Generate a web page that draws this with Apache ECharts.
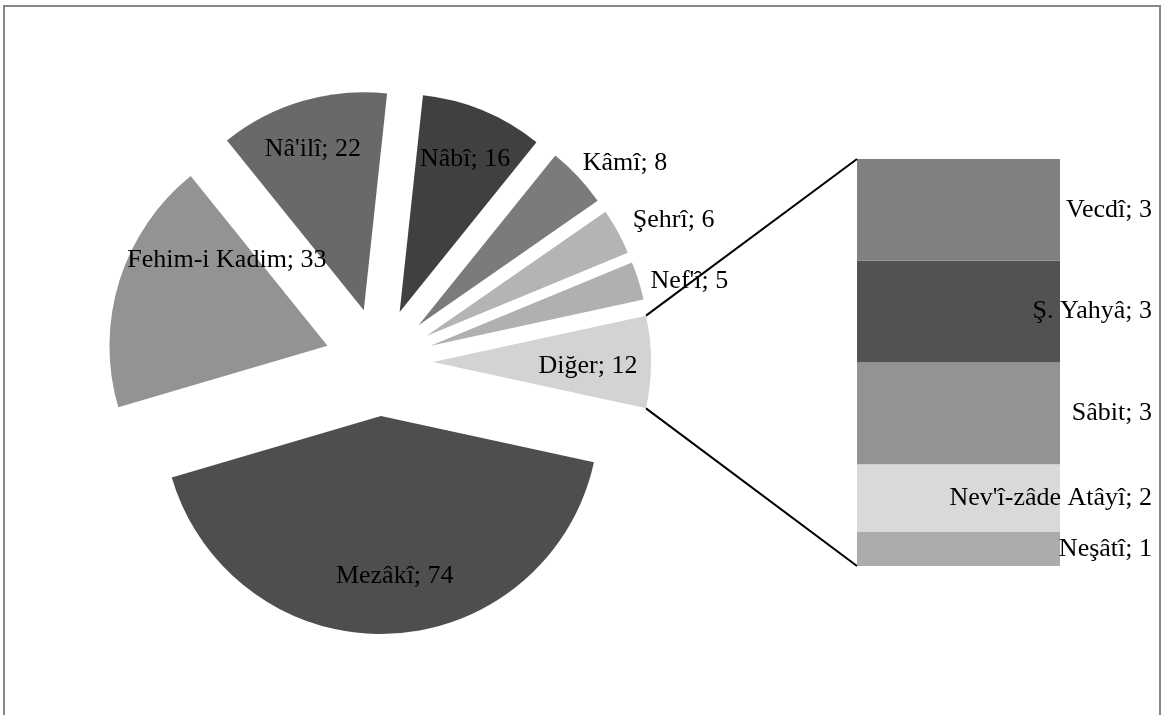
<!DOCTYPE html>
<html><head><meta charset="utf-8">
<script src="https://cdn.jsdelivr.net/npm/echarts@6/dist/echarts.min.js"></script>
<style>html,body{margin:0;padding:0;background:#fff}#c{width:1166px;height:715px}</style>
</head><body><div id="c"></div>
<script>
// ---- data ----
const pieNames = ['Mezâkî', 'Fehim-i Kadim', "Nâ'ilî", 'Nâbî', 'Kâmî', 'Şehrî', "Nef'î"];
const pieValues = [74, 33, 22, 16, 8, 6, 5];
const otherName = 'Diğer';
const barNames = ['Vecdî', 'Ş. Yahyâ', 'Sâbit', "Nev'î-zâde Atâyî", 'Neşâtî'];
const barValues = [3, 3, 3, 2, 1];

// ---- styles ----
const pieColors = ['#4e4e4e', '#939393', '#696969', '#404040', '#7b7b7b', '#b4b4b4', '#b0b0b0'];
const otherColor = '#d3d3d3';
const barColors = ['#808080', '#525252', '#939393', '#d9d9d9', '#acacac'];
// outside labels: [labelLine length, length2]
const outsideLabels = { 'Kâmî': [20, -10], 'Şehrî': [24, -6], "Nef'î": [0, 12] };
// small nudges of the inside labels (best-fit placement)
const labelNudge = { 'Fehim-i Kadim': [55, -37], 'Mezâkî': [8, -3], "Nâ'ilî": [-5, -5], 'Nâbî': [3, -2], 'Diğer': [-8, 4] };
const FONT = 'Liberation Serif';
const FS = 26;
const EXPLODE = 54;

const otherValue = barValues.reduce((a, b) => a + b, 0);
const allNames = pieNames.concat([otherName]);
const allValues = pieValues.concat([otherValue]);
const allColors = pieColors.concat([otherColor]);
const total = allValues.reduce((a, b) => a + b, 0);
const startAngle = -(otherValue / total) * 180;

const labelStyle = { fontFamily: FONT, fontSize: FS, color: '#000' };

const mainPieData = allNames.map((n, i) => {
  const o = outsideLabels[n];
  return {
    name: n, value: allValues[i], selected: true,
    itemStyle: { color: allColors[i] },
    label: o ? { show: true, position: 'outside', distanceToLabelLine: 0 } : { show: false },
    labelLine: o ? { show: false, length: o[0], length2: o[1] } : { show: false }
  };
});
const labelPieData = allNames.map((n, i) => ({
  name: n, value: allValues[i], selected: true,
  label: { show: !outsideLabels[n] }
}));

const barSeries = [];
for (let i = barNames.length - 1; i >= 0; i--) {
  barSeries.push({
    type: 'bar', name: barNames[i], stack: 'other', data: [barValues[i]],
    barWidth: '100%', xAxisIndex: 0, yAxisIndex: 0,
    itemStyle: { color: barColors[i] },
    label: { show: true, position: 'insideRight', distance: 0, offset: [92, 0],
      formatter: '{a}; {c}', ...labelStyle },
    silent: true
  });
}

const chart = echarts.init(document.getElementById('c'), null, { renderer: 'canvas' });
const option = {
  animation: false,
  backgroundColor: '#fff',
  grid: { left: 857, top: 159, width: 203, height: 407 },
  xAxis: { type: 'category', data: [otherName], show: false },
  yAxis: { type: 'value', min: 0, max: otherValue, show: false },
  series: [
    {
      type: 'pie', center: [379, 362], radius: [0, 218], startAngle: startAngle, clockwise: true,
      selectedMode: 'multiple', selectedOffset: EXPLODE, avoidLabelOverlap: false, silent: true,
      itemStyle: { borderWidth: 0 },
      label: { formatter: '{b}; {c}', ...labelStyle },
      data: mainPieData
    },
    {
      type: 'pie', center: [379, 362], radius: [0, 320], startAngle: startAngle, clockwise: true,
      selectedMode: 'multiple', selectedOffset: EXPLODE, avoidLabelOverlap: false, silent: true,
      itemStyle: { color: 'rgba(0,0,0,0)', borderWidth: 0 },
      label: { position: 'inside', formatter: '{b}; {c}', ...labelStyle },
      labelLine: { show: false },
      labelLayout: function (p) {
        const nd = labelNudge[allNames[p.dataIndex]];
        return nd ? { dx: nd[0], dy: nd[1] } : {};
      },
      data: labelPieData
    }
  ].concat(barSeries)
};
chart.setOption(option);

// connector lines from "Diğer" slice to the stacked bar
const pd = chart.getModel().getSeriesByIndex(0).getData();
const L = pd.getItemLayout(pd.count() - 1);
const mid = (L.startAngle + L.endAngle) / 2;
const ox = L.cx + EXPLODE * Math.cos(mid), oy = L.cy + EXPLODE * Math.sin(mid);
const c1 = [ox + L.r * Math.cos(L.startAngle), oy + L.r * Math.sin(L.startAngle)];
const c2 = [ox + L.r * Math.cos(L.endAngle), oy + L.r * Math.sin(L.endAngle)];
const upper = c1[1] < c2[1] ? c1 : c2, lower = c1[1] < c2[1] ? c2 : c1;
const rect = chart.getModel().getComponent('grid', 0).coordinateSystem.getRect();
const yTop = chart.convertToPixel({ gridIndex: 0 }, [0, otherValue])[1];
const yBot = chart.convertToPixel({ gridIndex: 0 }, [0, 0])[1];
chart.setOption({
  graphic: [
    { type: 'line', z: 100, shape: { x1: upper[0], y1: upper[1], x2: rect.x, y2: yTop }, style: { stroke: '#000', lineWidth: 2 } },
    { type: 'line', z: 100, shape: { x1: lower[0], y1: lower[1], x2: rect.x, y2: yBot }, style: { stroke: '#000', lineWidth: 2 } },
    { type: 'rect', z: 100, shape: { x: 4, y: 6, width: 1156, height: 740 }, style: { fill: 'none', stroke: '#878787', lineWidth: 2 } }
  ]
});
</script></body></html>
